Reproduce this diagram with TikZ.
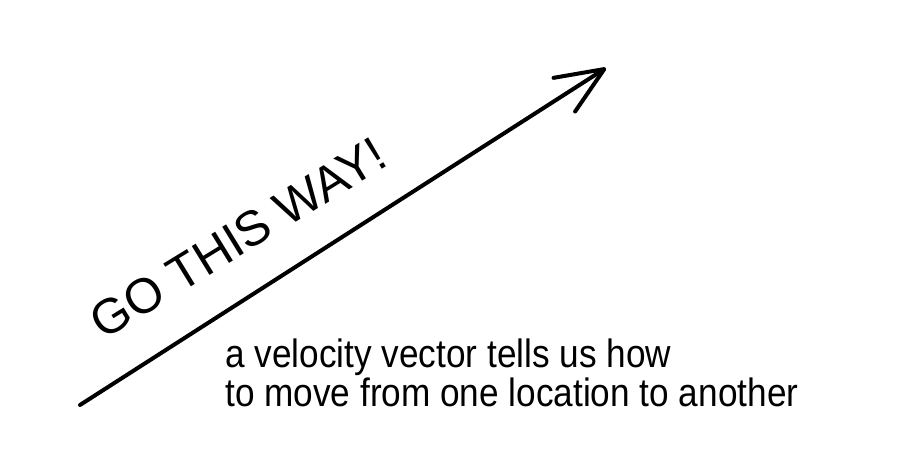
\documentclass[tikz,border=0pt]{standalone}
\usepackage{fontspec}
\setmainfont{Liberation Sans}
\newfontfamily\handfont[FakeStretch=0.89]{Liberation Sans}
\usetikzlibrary{arrows.meta}

\begin{document}
\begin{tikzpicture}[x=0.02cm, y=-0.02cm, >=Stealth]

% === Rahmen ===
\useasboundingbox (0, 0) rectangle (900, 475);

% === Geschwindigkeitsvektor ===
\coordinate (start) at (80, 405);
\coordinate (tip) at (606, 68);
\draw[line width=0.08cm, line cap=round,
      -{Straight Barb[length=0.95cm, width=0.8cm, line cap=round, line join=round]}]
    (start) -- (tip);

% Beschriftung entlang des Pfeils
\node[font=\fontsize{28}{30}\selectfont, rotate=31.5, inner sep=0pt] (slogan) at (238, 238) {GO THIS WAY!};

% === Erklaerung ===
\node[font=\handfont\fontsize{22.5}{20}\selectfont, align=left, anchor=north west, inner sep=0pt] (caption) at (225, 339) {
    a velocity vector tells us how\\
    to move from one location to another
};

\end{tikzpicture}
\end{document}
